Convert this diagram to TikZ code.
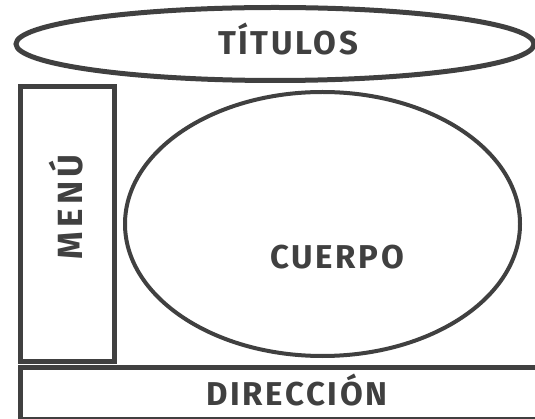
\documentclass[tikz,border=0pt]{standalone}
\usepackage{fontspec}
\setmainfont{Fira Sans}
\usetikzlibrary{shapes.geometric,positioning}
\definecolor{trazo}{HTML}{404040}
\tikzset{
  marco/.style={draw=trazo,line width=5pt,inner sep=0pt},
  rotulo/.style={text=trazo,inner sep=0pt,font=\bfseries\fontsize{33}{33}\selectfont\addfontfeatures{LetterSpace=8}}
}

\begin{document}
\begin{tikzpicture}[x=1pt,y=-1pt]
  \useasboundingbox (0,0) rectangle (535,419);
  \node[marco,ellipse,minimum width=518pt,minimum height=73pt] (titulos) at (275,44) {};
  \node[marco,line width=4pt,ellipse,minimum width=395pt,minimum height=264pt] (cuerpo) at (322.5,224) {};
  \node[marco,rectangle,minimum width=94pt,minimum height=274pt] (menu) at (67.5,224) {};
  \node[marco,rectangle,minimum width=524.5pt,minimum height=52pt] (direccion) at (282.75,393) {};
  \node[rotulo] (txt-titulos) at (288,39) {TÍTULOS};
  \node[rotulo] (txt-cuerpo) at (337,257) {CUERPO};
  \node[rotulo,rotate=90,font=\bfseries\fontsize{35}{35}\selectfont\addfontfeatures{LetterSpace=12}] (txt-menu) at (66,207) {MENÚ};
  \node[rotulo] (txt-direccion) at (297,390) {DIRECCIÓN};
\end{tikzpicture}
\end{document}
